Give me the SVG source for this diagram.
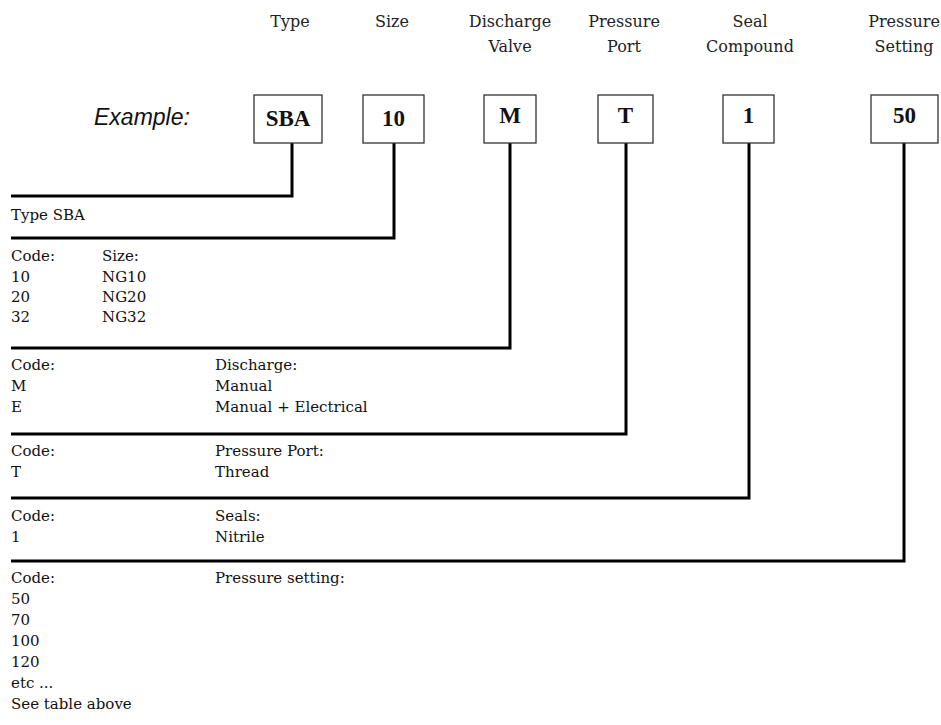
<svg xmlns="http://www.w3.org/2000/svg" width="941" height="725" viewBox="0 0 941 725">
<style>
.hd{font-family:"DejaVu Serif","Liberation Serif",serif;font-size:16px;fill:#222;text-anchor:middle}
.tx{font-family:"DejaVu Serif","Liberation Serif",serif;font-size:15px;fill:#111}
.bx{fill:#fff;stroke:#333;stroke-width:1.3}
.bt{font-family:"Liberation Serif","Times New Roman",serif;font-size:23px;font-weight:bold;fill:#111;text-anchor:middle}
.ln{fill:none;stroke:#000;stroke-width:3}
.ex{font-family:"Liberation Sans",Arial,sans-serif;font-size:23px;font-style:italic;fill:#111}
</style>
<rect width="941" height="725" fill="#fff"/>
<g id="headers">
<text class="hd" x="290" y="27">Type</text>
<text class="hd" x="392" y="27">Size</text>
<text class="hd" x="510" y="27">Discharge</text>
<text class="hd" x="510" y="52">Valve</text>
<text class="hd" x="624" y="27">Pressure</text>
<text class="hd" x="624" y="52">Port</text>
<text class="hd" x="750" y="27">Seal</text>
<text class="hd" x="750" y="52">Compound</text>
<text class="hd" x="904" y="27">Pressure</text>
<text class="hd" x="904" y="52">Setting</text>
</g>
<text class="ex" x="94" y="125">Example:</text>
<g id="connectors">
<path class="ln" d="M292,143 V196 H11"/>
<path class="ln" d="M394,143 V238 H11"/>
<path class="ln" d="M510,143 V348 H11"/>
<path class="ln" d="M626,143 V434 H11"/>
<path class="ln" d="M749,143 V498 H11"/>
<path class="ln" d="M904,143 V561 H11"/>
</g>
<g id="box-type"><rect class="bx" x="254" y="95" width="68" height="48"/><text class="bt" x="288" y="126">SBA</text></g>
<g id="box-size"><rect class="bx" x="363" y="95" width="61" height="48"/><text class="bt" x="393.5" y="126">10</text></g>
<g id="box-discharge"><rect class="bx" x="484" y="95" width="52" height="48"/><text class="bt" x="510" y="123">M</text></g>
<g id="box-port"><rect class="bx" x="598" y="95" width="55" height="48"/><text class="bt" x="625.5" y="123">T</text></g>
<g id="box-seal"><rect class="bx" x="723" y="95" width="51" height="48"/><text class="bt" x="748.5" y="123">1</text></g>
<g id="box-pressure"><rect class="bx" x="871" y="95" width="67" height="48"/><text class="bt" x="904.5" y="123">50</text></g>
<g id="sec-type"><text class="tx" x="11" y="220">Type SBA</text></g>
<g id="sec-size">
<text class="tx" x="11" y="261">Code:</text><text class="tx" x="102" y="261">Size:</text>
<text class="tx" x="11" y="282">10</text><text class="tx" x="102" y="282">NG10</text>
<text class="tx" x="11" y="302">20</text><text class="tx" x="102" y="302">NG20</text>
<text class="tx" x="11" y="322">32</text><text class="tx" x="102" y="322">NG32</text>
</g>
<g id="sec-discharge">
<text class="tx" x="11" y="370">Code:</text><text class="tx" x="215" y="370">Discharge:</text>
<text class="tx" x="11" y="391">M</text><text class="tx" x="215" y="391">Manual</text>
<text class="tx" x="11" y="412">E</text><text class="tx" x="215" y="412">Manual + Electrical</text>
</g>
<g id="sec-port">
<text class="tx" x="11" y="456">Code:</text><text class="tx" x="215" y="456">Pressure Port:</text>
<text class="tx" x="11" y="477">T</text><text class="tx" x="215" y="477">Thread</text>
</g>
<g id="sec-seal">
<text class="tx" x="11" y="521">Code:</text><text class="tx" x="215" y="521">Seals:</text>
<text class="tx" x="11" y="542">1</text><text class="tx" x="215" y="542">Nitrile</text>
</g>
<g id="sec-pressure">
<text class="tx" x="11" y="583">Code:</text><text class="tx" x="215" y="583">Pressure setting:</text>
<text class="tx" x="11" y="604">50</text>
<text class="tx" x="11" y="625">70</text>
<text class="tx" x="11" y="646">100</text>
<text class="tx" x="11" y="667">120</text>
<text class="tx" x="11" y="688">etc ...</text>
<text class="tx" x="11" y="709">See table above</text>
</g>
</svg>
